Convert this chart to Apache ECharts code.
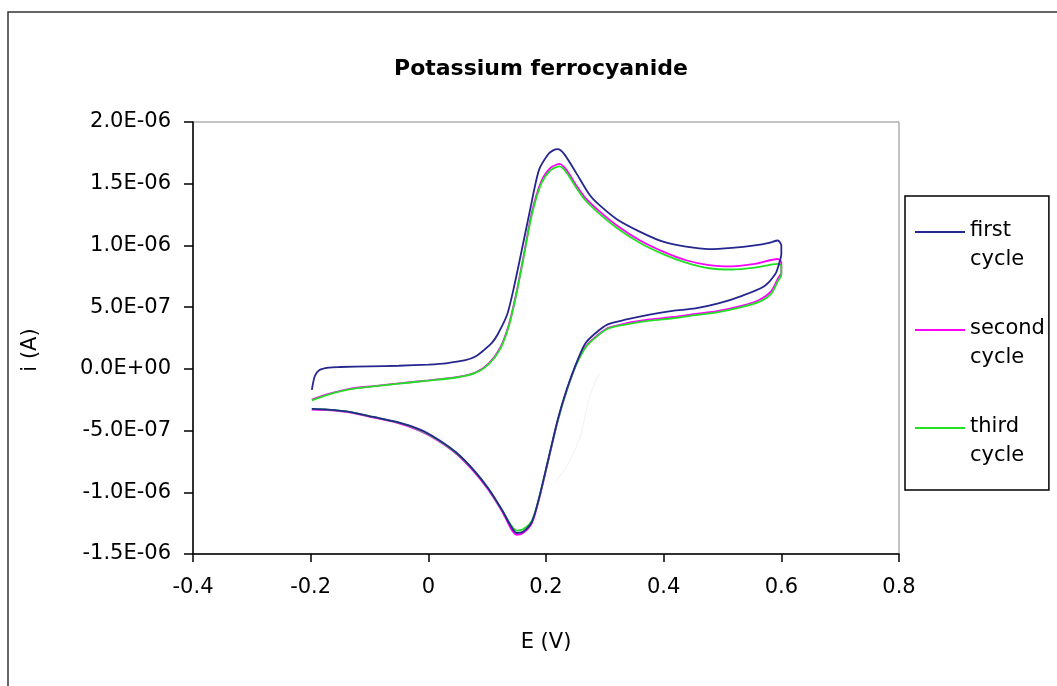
<!DOCTYPE html>
<html>
<head>
<meta charset="utf-8">
<script src="https://cdn.jsdelivr.net/npm/echarts@6/dist/echarts.min.js"></script>
<style>
  html, body { margin: 0; padding: 0; background: #fff; }
  #chart { width: 1057px; height: 686px; }
</style>
</head>
<body>
<div id="chart"></div>
<script>
// [E (V), i (A)], forward sweep then reverse sweep
var firstCycle = [
  [-0.198, -1.7e-7], [-0.193, -0.6e-7], [-0.185, -0.1e-7], [-0.17, 0.1e-7], [-0.15, 0.15e-7],
  [-0.1, 0.2e-7], [-0.05, 0.25e-7], [0, 0.35e-7], [0.03, 0.45e-7], [0.063, 0.7e-7],
  [0.08, 1.0e-7], [0.094, 1.5e-7], [0.108, 2.1e-7], [0.118, 2.8e-7], [0.134, 4.4e-7],
  [0.145, 6.5e-7], [0.157, 9.2e-7], [0.173, 1.29e-6], [0.188, 1.61e-6], [0.204, 1.74e-6],
  [0.212, 1.77e-6], [0.22, 1.78e-6], [0.231, 1.74e-6], [0.251, 1.59e-6], [0.274, 1.41e-6],
  [0.29, 1.33e-6], [0.321, 1.21e-6], [0.36, 1.11e-6], [0.399, 1.03e-6], [0.438, 0.99e-6],
  [0.477, 0.97e-6], [0.516, 0.98e-6], [0.555, 1.0e-6], [0.579, 1.02e-6], [0.594, 1.04e-6],
  [0.6, 1.0e-6], [0.6, 0.93e-6],
  [0.596, 8.5e-7], [0.59, 7.7e-7], [0.571, 6.7e-7], [0.532, 5.9e-7], [0.493, 5.3e-7],
  [0.454, 4.9e-7], [0.415, 4.7e-7], [0.376, 4.4e-7], [0.337, 4.0e-7], [0.305, 3.6e-7],
  [0.282, 2.8e-7], [0.266, 2.0e-7], [0.251, 0.4e-7], [0.235, -1.7e-7], [0.22, -4.1e-7],
  [0.204, -7.3e-7], [0.188, -1.05e-6], [0.176, -1.24e-6], [0.161, -1.32e-6], [0.15, -1.33e-6],
  [0.141, -1.28e-6], [0.126, -1.15e-6], [0.102, -9.7e-7], [0.079, -8.3e-7], [0.048, -6.8e-7],
  [0.016, -5.7e-7], [-0.015, -4.9e-7], [-0.054, -4.3e-7], [-0.093, -3.9e-7], [-0.132, -3.5e-7],
  [-0.171, -3.3e-7], [-0.198, -3.25e-7]
];

var secondCycle = [
  [-0.198, -2.5e-7], [-0.171, -2.05e-7], [-0.132, -1.6e-7], [-0.093, -1.4e-7], [-0.054, -1.2e-7],
  [0, -0.93e-7], [0.048, -0.67e-7], [0.079, -0.32e-7], [0.102, 0.4e-7], [0.122, 1.7e-7],
  [0.137, 3.6e-7], [0.149, 6.0e-7], [0.161, 8.9e-7], [0.176, 1.27e-6], [0.192, 1.52e-6],
  [0.208, 1.63e-6], [0.223, 1.66e-6], [0.235, 1.61e-6], [0.251, 1.49e-6], [0.266, 1.39e-6],
  [0.29, 1.28e-6], [0.321, 1.16e-6], [0.36, 1.04e-6], [0.399, 9.5e-7], [0.438, 8.8e-7],
  [0.477, 8.4e-7], [0.516, 8.3e-7], [0.555, 8.5e-7], [0.594, 8.9e-7], [0.6, 8.6e-7],
  [0.6, 7.8e-7],
  [0.594, 7.3e-7], [0.583, 6.3e-7], [0.563, 5.6e-7], [0.532, 5.1e-7], [0.493, 4.7e-7],
  [0.454, 4.45e-7], [0.415, 4.2e-7], [0.376, 4.0e-7], [0.337, 3.7e-7], [0.305, 3.3e-7],
  [0.282, 2.5e-7], [0.266, 1.7e-7], [0.251, 0.3e-7], [0.235, -1.8e-7], [0.22, -4.2e-7],
  [0.204, -7.4e-7], [0.188, -1.06e-6], [0.176, -1.25e-6], [0.161, -1.33e-6], [0.15, -1.345e-6],
  [0.141, -1.3e-6], [0.126, -1.16e-6], [0.102, -9.8e-7], [0.079, -8.4e-7], [0.048, -6.9e-7],
  [0.016, -5.8e-7], [-0.015, -5.0e-7], [-0.054, -4.35e-7], [-0.093, -3.95e-7], [-0.132, -3.55e-7],
  [-0.171, -3.35e-7], [-0.198, -3.3e-7]
];

var thirdCycle = [
  [-0.198, -2.55e-7], [-0.171, -2.1e-7], [-0.132, -1.65e-7], [-0.093, -1.42e-7], [-0.054, -1.22e-7],
  [0, -0.95e-7], [0.048, -0.7e-7], [0.079, -0.35e-7], [0.102, 0.35e-7], [0.122, 1.6e-7],
  [0.137, 3.5e-7], [0.149, 5.9e-7], [0.161, 8.8e-7], [0.176, 1.25e-6], [0.192, 1.5e-6],
  [0.208, 1.61e-6], [0.223, 1.64e-6], [0.235, 1.59e-6], [0.251, 1.47e-6], [0.266, 1.37e-6],
  [0.29, 1.26e-6], [0.321, 1.14e-6], [0.36, 1.02e-6], [0.399, 9.3e-7], [0.438, 8.6e-7],
  [0.477, 8.15e-7], [0.516, 8.05e-7], [0.555, 8.2e-7], [0.594, 8.5e-7], [0.6, 8.3e-7],
  [0.6, 7.6e-7],
  [0.594, 7.1e-7], [0.583, 6.1e-7], [0.563, 5.45e-7], [0.532, 5.0e-7], [0.493, 4.6e-7],
  [0.454, 4.35e-7], [0.415, 4.1e-7], [0.376, 3.9e-7], [0.337, 3.6e-7], [0.305, 3.25e-7],
  [0.282, 2.45e-7], [0.266, 1.65e-7], [0.251, 0.3e-7], [0.235, -1.8e-7], [0.22, -4.2e-7],
  [0.204, -7.35e-7], [0.188, -1.05e-6], [0.176, -1.23e-6], [0.161, -1.3e-6], [0.15, -1.31e-6],
  [0.141, -1.27e-6], [0.126, -1.15e-6], [0.102, -9.7e-7], [0.079, -8.3e-7], [0.048, -6.85e-7],
  [0.016, -5.75e-7], [-0.015, -4.95e-7], [-0.054, -4.3e-7], [-0.093, -3.9e-7], [-0.132, -3.5e-7],
  [-0.171, -3.3e-7], [-0.198, -3.25e-7]
];

// faint dotted trace left in the plot
var faintTrace = [
  [0.29, -0.4e-7], [0.274, -2.3e-7], [0.258, -5.5e-7], [0.235, -7.9e-7], [0.215, -9.2e-7]
];

var seriesNames = ['first cycle', 'second cycle', 'third cycle'];
var seriesColors = ['#26268f', '#ff00ff', '#22e022'];

function sciLabel(v) {
  if (Math.abs(v) < 1e-12) return '0.0E+00';
  var s = v.toExponential(1).split('e');
  var exp = parseInt(s[1], 10);
  var sign = exp < 0 ? '-' : '+';
  var e = Math.abs(exp);
  return s[0] + 'E' + sign + (e < 10 ? '0' + e : e);
}

var font = 'DejaVu Sans';
var lineIcon = 'path://M0,0H50V2H0Z M0,28H0.05V28.05H0Z';

var option = {
  backgroundColor: '#fff',
  animation: false,
  title: {
    text: 'Potassium ferrocyanide',
    left: 536,
    top: 53,
    textAlign: 'center',
    textStyle: { fontFamily: font, fontWeight: 'bold', fontSize: 22, color: '#000' }
  },
  legend: {
    data: seriesNames,
    orient: 'vertical',
    left: 905,
    top: 196,
    padding: [20, 4, 20, 10],
    itemGap: 40,
    itemWidth: 50,
    itemHeight: 29,
    icon: lineIcon,
    borderColor: '#000',
    borderWidth: 1.5,
    formatter: function (name) { return name.replace(' ', '\n'); },
    textStyle: { fontFamily: font, fontSize: 21, lineHeight: 29, color: '#000' }
  },
  graphic: [{
    type: 'rect',
    shape: { x: 8, y: 12, width: 1200, height: 800 },
    style: { fill: 'none', stroke: '#333', lineWidth: 1.5 },
    silent: true
  }],
  grid: {
    left: 193,
    top: 122,
    width: 706,
    height: 432,
    show: true,
    borderColor: '#888',
    borderWidth: 1
  },
  xAxis: {
    type: 'value',
    min: -0.4,
    max: 0.8,
    interval: 0.2,
    name: 'E (V)',
    nameLocation: 'middle',
    nameGap: 78,
    nameTextStyle: { fontFamily: font, fontSize: 21, color: '#000' },
    axisLine: { onZero: false, lineStyle: { color: '#000', width: 1.5 } },
    axisTick: { show: true, inside: false, length: 8, lineStyle: { color: '#000', width: 1.5 } },
    splitLine: { show: false },
    axisLabel: {
      margin: 23,
      fontFamily: font, fontSize: 21, color: '#000',
      formatter: function (v) { return Math.abs(v) < 1e-9 ? '0' : String(+v.toFixed(1)); }
    }
  },
  yAxis: {
    type: 'value',
    min: -1.5e-6,
    max: 2.0e-6,
    interval: 5e-7,
    name: 'i (A)',
    nameLocation: 'middle',
    nameRotate: 90,
    nameGap: 152,
    nameTextStyle: { fontFamily: font, fontSize: 21, color: '#000', padding: [0, 24, 0, 0] },
    axisLine: { onZero: false, lineStyle: { color: '#000', width: 1.5 } },
    axisTick: { show: true, inside: false, length: 9, lineStyle: { color: '#000', width: 1.5 } },
    splitLine: { show: false },
    axisLabel: {
      margin: 22,
      fontFamily: font, fontSize: 21, color: '#000',
      formatter: sciLabel
    }
  },
  series: [
    {
      name: seriesNames[0], type: 'line', data: firstCycle, z: 4,
      showSymbol: false, smooth: 0.25, color: seriesColors[0],
      lineStyle: { width: 1.8, color: seriesColors[0] }
    },
    {
      name: seriesNames[1], type: 'line', data: secondCycle, z: 2,
      showSymbol: false, smooth: 0.25, color: seriesColors[1],
      lineStyle: { width: 1.8, color: seriesColors[1] }
    },
    {
      name: seriesNames[2], type: 'line', data: thirdCycle, z: 3,
      showSymbol: false, smooth: 0.25, color: seriesColors[2],
      lineStyle: { width: 1.8, color: seriesColors[2] }
    },
    {
      name: 'trace', type: 'line', data: faintTrace, z: 1,
      showSymbol: false, smooth: 0.3, silent: true,
      lineStyle: { width: 1, color: '#e4e4e4', type: 'dotted' }
    }
  ]
};

var chart = echarts.init(document.getElementById('chart'));
chart.setOption(option);
</script>
</body>
</html>
